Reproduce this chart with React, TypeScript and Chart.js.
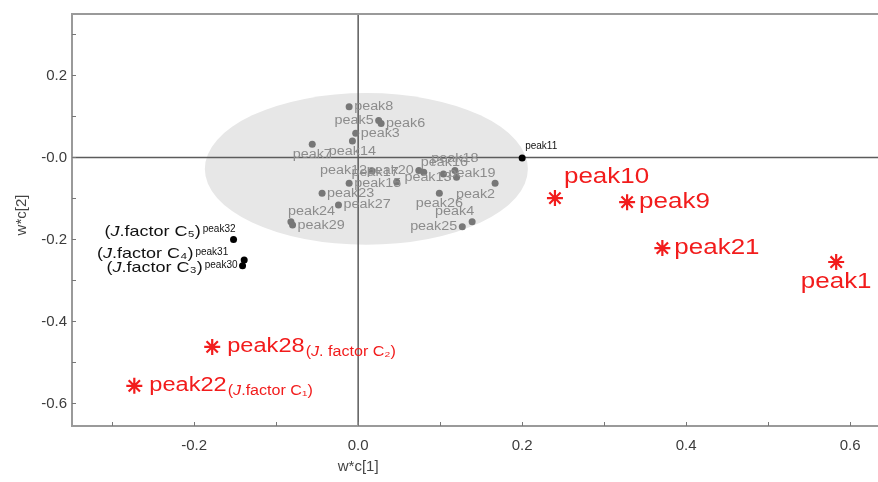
import { useEffect, useRef } from 'react';
import { Chart, registerables } from 'chart.js';
Chart.register(...registerables);

// ---- data ----
const grayNames = ['peak8', 'peak5', 'peak6', 'peak3', 'peak14', 'peak7', 'peak12', 'peak17', 'peak15', 'peak20', 'peak16', 'peak19', 'peak18', 'peak13', 'peak2', 'peak26', 'peak4', 'peak25', 'peak23', 'peak27', 'peak24', 'peak29'];
const grayX = [-0.011, 0.025, 0.028, -0.003, -0.007, -0.056, 0.017, 0.047, -0.011, 0.074, 0.080, 0.104, 0.118, 0.120, 0.167, 0.099, 0.139, 0.127, -0.044, -0.024, -0.082, -0.080];
const grayY = [0.124, 0.090, 0.083, 0.059, 0.040, 0.032, -0.033, -0.060, -0.063, -0.032, -0.036, -0.040, -0.032, -0.048, -0.063, -0.087, -0.157, -0.169, -0.087, -0.116, -0.157, -0.165];

const blackNames = ['peak11', 'peak32', 'peak31', 'peak30'];
const blackX = [0.200, -0.152, -0.139, -0.141];
const blackY = [-0.001, -0.200, -0.250, -0.264];
const blackTags = ['', '(J.factor C₅)', '(J.factor C₄)', '(J.factor C₃)'];

const redNames = ['peak10', 'peak9', 'peak21', 'peak1', 'peak28', 'peak22'];
const redX = [0.240, 0.328, 0.371, 0.583, -0.178, -0.273];
const redY = [-0.099, -0.109, -0.221, -0.255, -0.462, -0.557];
const redTags = ['', '', '', '', '(J. factor C₂)', '(J.factor C₁)'];

const ellipseCenter = [0.010, -0.028];
const ellipseRadii = [0.197, 0.185];

const xTickValues = [-0.2, 0.0, 0.2, 0.4, 0.6];
const yTickValues = [0.2, 0.0, -0.2, -0.4, -0.6];
const xMinorTicks = [-0.3, -0.2, -0.1, 0.0, 0.1, 0.2, 0.3, 0.4, 0.5, 0.6];
const yMinorTicks = [0.3, 0.2, 0.1, 0.0, -0.1, -0.2, -0.3, -0.4, -0.5, -0.6];
const xTitle = 'w*c[1]';
const yTitle = 'w*c[2]';

// ---- label placement (style) ----
const grayPlace = ['r', 'l', 'r', 'r', 'b', 'b', 'l', 'al', 'r', 'l', 'ar', 'r', 'a', 'l', 'bl', 'b', 'al', 'l', 'r', 'r', 'ar', 'r'];
const blackPlace = ['ar2', 'al', 'al2', 'l'];
const redPlace = ['ar3', 'r2', 'r2', 'b2', 'r3', 'r3'];
const PLACE: Record<string, [CanvasTextAlign, number, number]> = {
  r: ['left', 5, 0],
  l: ['right', -5, 0],
  a: ['center', 0, -12],
  b: ['center', 0, 10],
  ar: ['left', -3, -10],
  al: ['right', 2, -10],
  bl: ['right', 0, 11],
  ar2: ['left', 3, -12],
  al2: ['right', -16, -8],
  ar3: ['left', 9, -21],
  r2: ['left', 12, 0],
  r3: ['left', 15, 0],
  b2: ['center', 0, 20],
};

const FONT = '"Liberation Sans", Arial, sans-serif';

function drawStretched(ctx: CanvasRenderingContext2D, text: string, x: number, y: number, align: CanvasTextAlign, font: string, color: string, sx: number) {
  ctx.save();
  ctx.font = font;
  const w = ctx.measureText(text).width * sx;
  let left = x;
  if (align === 'right') left = x - w;
  else if (align === 'center') left = x - w / 2;
  ctx.translate(left, y);
  ctx.scale(sx, 1);
  ctx.fillStyle = color;
  ctx.textAlign = 'left';
  ctx.textBaseline = 'middle';
  ctx.fillText(text, 0, 0);
  ctx.restore();
  return { left, right: left + w };
}

function tagRuns(tag: string) {
  const i = tag.indexOf('J');
  if (i < 0) return [{ t: tag, it: false }];
  return [
    { t: tag.slice(0, i), it: false },
    { t: 'J', it: true },
    { t: tag.slice(i + 1), it: false },
  ];
}

function drawTag(ctx: CanvasRenderingContext2D, tag: string, x: number, y: number, align: 'left' | 'right', size: number, color: string, sx: number) {
  const runs = tagRuns(tag);
  ctx.save();
  let total = 0;
  const widths = runs.map((r) => {
    ctx.font = `${r.it ? 'italic ' : ''}${size}px ${FONT}`;
    const w = ctx.measureText(r.t).width * sx;
    total += w;
    return w;
  });
  let cur = align === 'right' ? x - total : x;
  runs.forEach((r, k) => {
    ctx.save();
    ctx.font = `${r.it ? 'italic ' : ''}${size}px ${FONT}`;
    ctx.translate(cur, y);
    ctx.scale(sx, 1);
    ctx.fillStyle = color;
    ctx.textAlign = 'left';
    ctx.textBaseline = 'middle';
    ctx.fillText(r.t, 0, 0);
    ctx.restore();
    cur += widths[k];
  });
  ctx.restore();
}

const overlay = {
  id: 'overlay',
  beforeDatasetsDraw(chart: any) {
    const { ctx, chartArea: a } = chart;
    const x = chart.scales.x;
    const y = chart.scales.y;
    ctx.save();
    const cx = x.getPixelForValue(ellipseCenter[0]);
    const cy = y.getPixelForValue(ellipseCenter[1]);
    const rx = Math.abs(x.getPixelForValue(ellipseCenter[0] + ellipseRadii[0]) - cx);
    const ry = Math.abs(y.getPixelForValue(ellipseCenter[1] + ellipseRadii[1]) - cy);
    ctx.fillStyle = '#e7e7e7';
    ctx.beginPath();
    ctx.ellipse(cx, cy, rx, ry, 0, 0, Math.PI * 2);
    ctx.fill();

    const x0 = x.getPixelForValue(0);
    const y0 = y.getPixelForValue(0);
    ctx.strokeStyle = '#5c5c5c';
    ctx.lineWidth = 1.5;
    ctx.beginPath();
    ctx.moveTo(x0, a.top);
    ctx.lineTo(x0, a.bottom);
    ctx.moveTo(a.left, y0);
    ctx.lineTo(a.right, y0);
    ctx.stroke();

    ctx.strokeStyle = '#9a9a9a';
    ctx.lineWidth = 2;
    ctx.beginPath();
    ctx.moveTo(a.right + 2, a.top);
    ctx.lineTo(a.left, a.top);
    ctx.lineTo(a.left, a.bottom);
    ctx.lineTo(a.right + 2, a.bottom);
    ctx.stroke();

    ctx.strokeStyle = '#777';
    ctx.lineWidth = 1;
    ctx.beginPath();
    xMinorTicks.forEach((v) => {
      const px = Math.round(x.getPixelForValue(v)) + 0.5;
      ctx.moveTo(px, a.bottom);
      ctx.lineTo(px, a.bottom - 4);
    });
    yMinorTicks.forEach((v) => {
      const py = Math.round(y.getPixelForValue(v)) + 0.5;
      ctx.moveTo(a.left, py);
      ctx.lineTo(a.left + 4, py);
    });
    ctx.stroke();

    ctx.fillStyle = '#444';
    ctx.font = `15px ${FONT}`;
    ctx.textAlign = 'center';
    ctx.textBaseline = 'middle';
    ctx.fillText(xTitle, x0, 467);
    ctx.save();
    ctx.translate(22, 215);
    ctx.rotate(-Math.PI / 2);
    ctx.fillText(yTitle, 0, 0);
    ctx.restore();
    ctx.restore();
  },
  afterDatasetsDraw(chart: any) {
    const { ctx } = chart;
    const x = chart.scales.x;
    const y = chart.scales.y;
    grayNames.forEach((n, i) => {
      const [al, dx, dy] = PLACE[grayPlace[i]];
      const px = x.getPixelForValue(grayX[i]);
      const py = y.getPixelForValue(grayY[i]);
      drawStretched(ctx, n, px + dx, py + dy, al, `12.5px ${FONT}`, '#8c8c8c', 1.15);
    });
    blackNames.forEach((n, i) => {
      const [al, dx, dy] = PLACE[blackPlace[i]];
      const px = x.getPixelForValue(blackX[i]);
      const py = y.getPixelForValue(blackY[i]);
      const r = drawStretched(ctx, n, px + dx, py + dy, al, `10px ${FONT}`, '#111', 1.0);
      if (blackTags[i]) {
        drawTag(ctx, blackTags[i], r.left - 2, py + dy + 2, 'right', 15, '#111', 1.2);
      }
    });
    redNames.forEach((n, i) => {
      const [al, dx, dy] = PLACE[redPlace[i]];
      const px = x.getPixelForValue(redX[i]);
      const py = y.getPixelForValue(redY[i]);
      const size = redTags[i] ? 20 : 22;
      const r = drawStretched(ctx, n, px + dx, py + dy, al, `${size}px ${FONT}`, '#f21c1c', 1.18);
      if (redTags[i]) {
        drawTag(ctx, redTags[i], r.right + 1, py + dy + 5, 'left', 14, '#f21c1c', 1.15);
      }
    });
  },
};

export default function App() {
  const ref = useRef<HTMLCanvasElement | null>(null);
  useEffect(() => {
    if (!ref.current) return;
    const tickFont = { family: FONT, size: 15 };
    const chart = new Chart(ref.current, {
      type: 'scatter',
      data: {
        datasets: [
          {
            label: 'gray',
            data: grayX.map((v, i) => ({ x: v, y: grayY[i] })),
            pointRadius: 3.5,
            pointBackgroundColor: '#777',
            pointBorderColor: '#777',
            pointBorderWidth: 0,
          },
          {
            label: 'black',
            data: blackX.map((v, i) => ({ x: v, y: blackY[i] })),
            pointRadius: 3.5,
            pointBackgroundColor: '#000',
            pointBorderColor: '#000',
            pointBorderWidth: 0,
          },
          {
            label: 'red',
            data: redX.map((v, i) => ({ x: v, y: redY[i] })),
            pointStyle: 'star',
            pointRadius: 8,
            pointBorderColor: '#f21c1c',
            pointBackgroundColor: '#f21c1c',
            pointBorderWidth: 2.2,
          },
        ],
      },
      options: {
        responsive: false,
        animation: false,
        devicePixelRatio: 1,
        events: [],
        layout: { autoPadding: false, padding: { top: 14, left: 0, right: 0, bottom: 0 } },
        plugins: { legend: { display: false }, tooltip: { enabled: false } },
        scales: {
          x: {
            type: 'linear',
            min: -0.349,
            max: 0.634,
            grid: { display: false, drawTicks: false },
            border: { display: false },
            afterBuildTicks: (s: any) => {
              s.ticks = xTickValues.map((v) => ({ value: v }));
            },
            afterFit: (s: any) => {
              s.height = 56;
              s.paddingLeft = 0;
              s.paddingRight = 0;
            },
            ticks: {
              padding: 11,
              color: '#3c3c3c',
              font: tickFont,
              maxRotation: 0,
              autoSkip: false,
              callback: (v: any) => Number(v).toFixed(1),
            },
          },
          y: {
            type: 'linear',
            min: -0.655,
            max: 0.35,
            grid: { display: false, drawTicks: false },
            border: { display: false },
            afterBuildTicks: (s: any) => {
              s.ticks = yTickValues.map((v) => ({ value: v }));
            },
            afterFit: (s: any) => {
              s.width = 72;
              s.paddingTop = 0;
              s.paddingBottom = 0;
            },
            ticks: {
              padding: 5,
              color: '#3c3c3c',
              font: tickFont,
              autoSkip: false,
              callback: (v: any) => (Math.abs(Number(v)) < 1e-9 ? '-0.0' : Number(v).toFixed(1)),
            },
          },
        },
      },
      plugins: [overlay],
    } as any);
    return () => chart.destroy();
  }, []);
  return (
    <div style={{ position: 'absolute', left: 0, top: 0, width: 878, height: 482, background: '#fff' }}>
      <canvas ref={ref} width={878} height={482} style={{ display: 'block' }} />
    </div>
  );
}
